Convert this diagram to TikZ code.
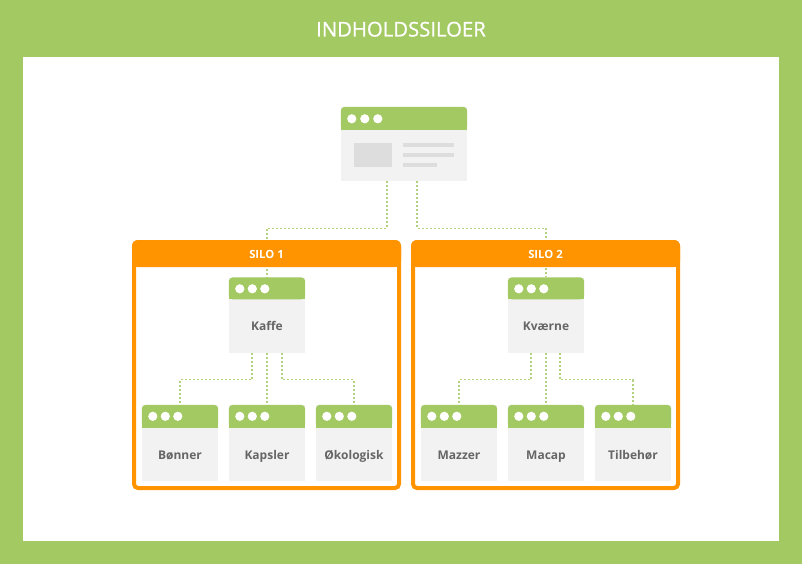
\documentclass[tikz,border=0pt]{standalone}
\usepackage{fontspec}
\setmainfont{Open Sans}
\newfontfamily\titlefont[FakeBold=0.9]{Open Sans}
\definecolor{grn}{HTML}{A3C962}
\definecolor{cgrn}{HTML}{B2D27E}
\definecolor{org}{HTML}{FF9400}
\definecolor{bodyg}{HTML}{F2F2F2}
\definecolor{txtg}{HTML}{666666}
\definecolor{ph}{HTML}{DDDDDD}
\newcommand\winhead[2]{%
  \fill[grn,rounded corners=4pt] (#1.north west) rectangle ([yshift=-#2pt]#1.north east);
  \fill[grn] ([yshift=-8pt]#1.north west) rectangle ([yshift=-#2pt]#1.north east);
  \foreach \dx in {11,23.5,36} \fill[white] ([xshift=\dx pt, yshift=-11.5pt]#1.north west) circle (4.6pt);
}
\newcommand\winlabel[2]{%
  \node[lbl, anchor=base] (#1-t) at ([yshift=-15.5pt]#1.center) {#2};
}
\begin{document}
\begin{tikzpicture}[x=1pt,y=-1pt,
  win/.style={fill=bodyg, draw=none, inner sep=0pt, minimum width=76pt, minimum height=75pt},
  silobox/.style={draw=org, fill=white, line width=4pt, rounded corners=4pt, inner sep=0pt, minimum width=265pt, minimum height=246pt},
  conn/.style={draw=cgrn, line width=1.2pt, dash pattern=on 2pt off 2pt},
  lbl/.style={font=\bfseries\fontsize{12}{14}\selectfont, text=txtg, inner sep=0pt},
  silolbl/.style={font=\bfseries\fontsize{11.3}{13}\selectfont, text=white, inner sep=0pt, anchor=base},
  titlelbl/.style={font=\titlefont\fontsize{20.3}{24}\selectfont, text=white, inner sep=0pt, anchor=base}]
\useasboundingbox (0,0) rectangle (802,564);
\fill[grn] (0,0) rectangle (802,564);
\fill[white] (23,57) rectangle (779,541);
\node[titlelbl] (title) at (401,36.5) {INDHOLDSSILOER};

% top page
\node[win, minimum width=126pt, minimum height=74pt] (top) at (404,144) {};
\fill[grn,rounded corners=4pt] (top.north west) rectangle ([yshift=-23pt]top.north east);
\fill[grn] ([yshift=-8pt]top.north west) rectangle ([yshift=-23pt]top.north east);
\foreach \dx in {11,24,37} \fill[white] ([xshift=\dx pt, yshift=-12pt]top.north west) circle (4.6pt);
\fill[ph] (354,143) rectangle (391.5,167.5);
\fill[ph] (403,143.3) rectangle (454,147.3);
\fill[ph] (403,153.2) rectangle (454,157.2);
\fill[ph] (403,163.3) rectangle (437,167.3);

% silos
\node[silobox] (silo1) at (266.5,365) {};
\node[silobox] (silo2) at (545.5,365) {};

% pages in silos
\node[win] (kaffe) at (267,315) {};
\node[win, minimum height=76pt] (bonner) at (180,443) {};
\node[win, minimum height=76pt] (kapsler) at (267,443) {};
\node[win, minimum height=76pt] (oko) at (354,443) {};
\node[win] (kvaerne) at (546,315) {};
\node[win, minimum height=76pt] (mazzer) at (459,443) {};
\node[win, minimum height=76pt] (macap) at (546,443) {};
\node[win, minimum height=76pt] (tilbehor) at (633,443) {};

% connectors
\draw[conn] ([xshift=-17pt]top.south) -- ++(0,47) -| (kaffe.north);
\draw[conn] ([xshift=13pt]top.south) -- ++(0,47) -| (kvaerne.north);
\draw[conn] ([xshift=-15pt]kaffe.south) -- ++(0,27) -| (bonner.north);
\draw[conn] (kaffe.south) -- (kapsler.north);
\draw[conn] ([xshift=15pt]kaffe.south) -- ++(0,27) -| (oko.north);
\draw[conn] ([xshift=-15pt]kvaerne.south) -- ++(0,27) -| (mazzer.north);
\draw[conn] (kvaerne.south) -- (macap.north);
\draw[conn] ([xshift=14pt]kvaerne.south) -- ++(0,27) -| (tilbehor.north);

% silo headers
\fill[org,rounded corners=6pt] (132,240) rectangle (401,267);
\fill[org] (132,252) rectangle (401,267);
\node[silolbl] (silo1-t) at (266.5,258) {SILO 1};
\fill[org,rounded corners=6pt] (411,240) rectangle (680,267);
\fill[org] (411,252) rectangle (680,267);
\node[silolbl] (silo2-t) at (545.5,258) {SILO 2};

% window headers and labels
\winhead{kaffe}{22}
\winhead{kvaerne}{22}
\winhead{bonner}{23}
\winhead{kapsler}{23}
\winhead{oko}{23}
\winhead{mazzer}{23}
\winhead{macap}{23}
\winhead{tilbehor}{23}
\winlabel{kaffe}{Kaffe}
\winlabel{kvaerne}{Kværne}
\node[lbl, anchor=base] (bonner-t) at (180,459) {Bønner};
\node[lbl, anchor=base] (kapsler-t) at (267,459) {Kapsler};
\node[lbl, anchor=base] (oko-t) at (354,459) {Økologisk};
\node[lbl, anchor=base] (mazzer-t) at (459,459) {Mazzer};
\node[lbl, anchor=base] (macap-t) at (546,459) {Macap};
\node[lbl, anchor=base] (tilbehor-t) at (633,459) {Tilbehør};
\end{tikzpicture}
\end{document}
